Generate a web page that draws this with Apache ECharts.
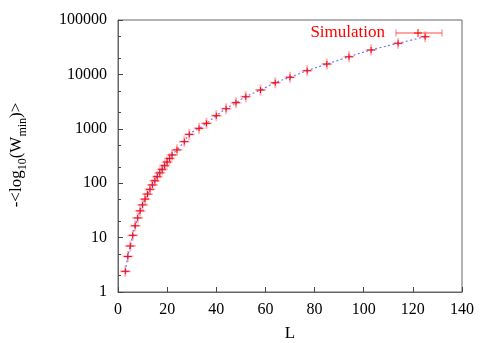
<!DOCTYPE html>
<html>
<head>
<meta charset="utf-8">
<script src="https://cdn.jsdelivr.net/npm/echarts@6/dist/echarts.min.js"></script>
<style>html,body{margin:0;padding:0;background:#fff;}#c{width:491px;height:343px;}</style>
</head>
<body>
<div id="c"></div>
<script>
// Data
const sizes = [3,4,5,6,7,8,9,10,11,12,13,14,15,16,17,18,19,20,21,22,24,27,29,33,36,40,44,48,52,58,64,70,77,85,94,103,114,125];
const values = [2.4,4.5,7,11,16.5,23,31,40,51,63,77,93,111,132,155,180,210,245,285,330,410,580,790,1020,1260,1740,2340,3020,3890,5160,7030,8850,11700,15500,21100,28100,37300,49300];
const xTicks = [0,20,40,60,80,100,120,140];
const yMinorTickValues = [2,5,20,50,200,500,2000,5000,20000,50000];
const seriesName = 'Simulation';

const FONT = "'Liberation Serif','Times New Roman',serif";
const pts = sizes.map((L, i) => [L, values[i]]);

const chart = echarts.init(document.getElementById('c'), null, {renderer: 'canvas'});
chart.setOption({
  animation: false,
  backgroundColor: '#fff',
  grid: {left: 118, right: 29, top: 20, bottom: 51, show: true, borderColor: '#666', borderWidth: 1, backgroundColor: 'transparent'},
  xAxis: {
    type: 'value', min: xTicks[0], max: xTicks[xTicks.length - 1], interval: 20,
    axisLine: {show: true, lineStyle: {color: '#666', width: 1}},
    axisTick: {show: true, inside: true, length: 5, lineStyle: {color: '#444'}},
    axisLabel: {color: '#000', fontFamily: FONT, fontSize: 16, margin: 10},
    splitLine: {show: false}
  },
  yAxis: [{
    type: 'log', logBase: 10, min: 1, max: 100000,
    axisLine: {show: true, lineStyle: {color: '#666', width: 1}},
    axisTick: {show: true, inside: true, length: 5, lineStyle: {color: '#444'}},
    axisLabel: {color: '#000', fontFamily: FONT, fontSize: 16, margin: 11,
      formatter: v => String(Math.round(v))},
    splitLine: {show: false},
    minorTick: {show: false}
  }, {
    type: 'value', min: 0, max: 5, position: 'left',
    axisLine: {show: false},
    axisTick: {show: true, inside: true, length: 3, lineStyle: {color: '#444'},
      customValues: yMinorTickValues.map(v => Math.log10(v))},
    axisLabel: {show: false},
    splitLine: {show: false}
  }],
  series: [{
    name: seriesName,
    type: 'custom',
    data: pts,
    z: 2,
    renderItem: function (params, api) {
      const p = api.coord([api.value(0), api.value(1)]);
      const x = p[0], y = p[1];
      return {type: 'group', children: [
        {type: 'line', shape: {x1: x, y1: y - 5.5, x2: x, y2: y + 5.5}, style: {stroke: 'rgba(255,70,70,0.4)', lineWidth: 2}},
        {type: 'line', shape: {x1: x - 5.5, y1: y, x2: x + 5.5, y2: y}, style: {stroke: 'rgba(255,70,70,0.35)', lineWidth: 2}},
        {type: 'line', shape: {x1: x - 4, y1: y, x2: x + 4, y2: y}, style: {stroke: '#ff0000', lineWidth: 1}},
        {type: 'line', shape: {x1: x, y1: y - 3, x2: x, y2: y + 3}, style: {stroke: '#ff0000', lineWidth: 1}}
      ]};
    }
  }, {
    name: 'fit',
    type: 'line',
    data: pts,
    z: 3,
    showSymbol: false,
    symbol: 'none',
    smooth: true,
    lineStyle: {type: [2, 2.5], color: 'rgba(70,70,255,0.75)', width: 1.2}
  }],
  graphic: [
    {type: 'text', x: 17, y: 155, rotation: Math.PI / 2,
      style: {text: '-<log{s|10}(W{s|min})>', fill: '#000', font: '17px ' + FONT,
        fontSize: 17, fontFamily: FONT, lineHeight: 24,
        align: 'center', verticalAlign: 'middle',
        rich: {s: {fontSize: 12, fontFamily: FONT, lineHeight: 12, verticalAlign: 'bottom', fill: '#000'}}}},
    {type: 'text', x: 290, y: 334,
      style: {text: 'L', fill: '#000', font: '17px ' + FONT, align: 'center', verticalAlign: 'middle'}},
    {type: 'text', x: 385, y: 33,
      style: {text: seriesName, fill: '#ff0000', font: '17px ' + FONT, align: 'right', verticalAlign: 'middle'}},
    {type: 'line', shape: {x1: 396, y1: 33, x2: 442, y2: 33}, style: {stroke: 'rgba(255,70,70,0.5)', lineWidth: 2}},
    {type: 'line', shape: {x1: 396, y1: 29.5, x2: 396, y2: 36.5}, style: {stroke: 'rgba(255,70,70,0.5)', lineWidth: 1.5}},
    {type: 'line', shape: {x1: 442, y1: 29.5, x2: 442, y2: 36.5}, style: {stroke: 'rgba(255,70,70,0.5)', lineWidth: 1.5}},
    {type: 'line', shape: {x1: 414, y1: 33, x2: 422, y2: 33}, style: {stroke: '#ff0000', lineWidth: 1}},
    {type: 'line', shape: {x1: 418, y1: 29, x2: 418, y2: 37}, style: {stroke: '#ff0000', lineWidth: 1}}
  ]
});
</script>
</body>
</html>
